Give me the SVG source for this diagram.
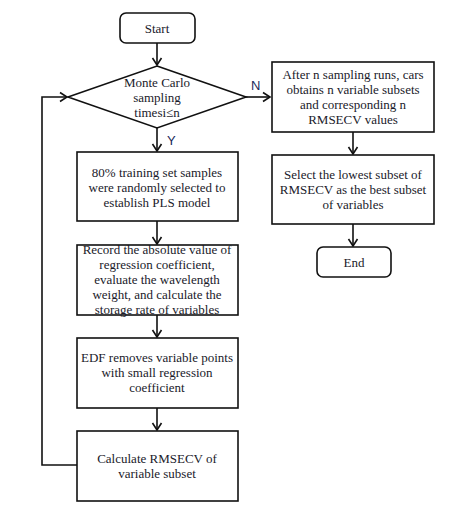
<svg xmlns="http://www.w3.org/2000/svg" width="474" height="520" viewBox="0 0 474 520">
<style>
.b{fill:#fff;stroke:#111;stroke-width:1.6}
.t{font-family:"Liberation Serif","Times New Roman",serif;font-size:13px;fill:#1a1a2a;text-anchor:middle}
.l{font-family:"Liberation Sans",Arial,sans-serif;font-size:13px;fill:#1a2a5a}
.c{fill:none;stroke:#111;stroke-width:1.6}
</style>
<defs>
<marker id="a" markerWidth="12" markerHeight="12" refX="9" refY="6" orient="auto" markerUnits="userSpaceOnUse">
<polyline points="2,1.5 9,6 2,10.5" fill="none" stroke="#111" stroke-width="1.6"/>
</marker>
</defs>
<rect width="474" height="520" fill="#fff"/>
<g id="connectors">
<line class="c" x1="157" y1="43" x2="157" y2="65" marker-end="url(#a)"/>
<line class="c" x1="157" y1="128" x2="157" y2="151" marker-end="url(#a)"/>
<line class="c" x1="246" y1="97" x2="270" y2="97" marker-end="url(#a)"/>
<line class="c" x1="157" y1="221" x2="157" y2="244" marker-end="url(#a)"/>
<line class="c" x1="157" y1="315" x2="157" y2="337" marker-end="url(#a)"/>
<line class="c" x1="157" y1="408" x2="157" y2="430" marker-end="url(#a)"/>
<polyline class="c" points="77,465 42,465 42,97 67,97" marker-end="url(#a)"/>
<line class="c" x1="353" y1="132" x2="353" y2="154" marker-end="url(#a)"/>
<line class="c" x1="353" y1="224" x2="353" y2="246" marker-end="url(#a)"/>
<text class="l" x="251" y="90">N</text>
<text class="l" x="167" y="145">Y</text>
</g>
<g id="start">
<rect class="b" x="120" y="13" width="75" height="30" rx="6"/>
<text class="t" x="157" y="33">Start</text>
</g>
<g id="decision">
<polygon class="b" points="157,66 246,97 157,128 68,97"/>
<text class="t" x="157" y="87">Monte Carlo</text>
<text class="t" x="157" y="102">sampling</text>
<text class="t" x="157" y="117">timesi≤n</text>
</g>
<g id="train">
<rect class="b" x="77" y="152" width="161" height="69"/>
<text class="t" x="157" y="177">80% training set samples</text>
<text class="t" x="157" y="192">were randomly selected to</text>
<text class="t" x="157" y="207">establish PLS model</text>
</g>
<g id="record">
<rect class="b" x="77" y="245" width="161" height="70"/>
<text class="t" x="157" y="254">Record the absolute value of</text>
<text class="t" x="157" y="269">regression coefficient,</text>
<text class="t" x="157" y="284">evaluate the wavelength</text>
<text class="t" x="157" y="299">weight, and calculate the</text>
<text class="t" x="157" y="314">storage rate of variables</text>
</g>
<g id="edf">
<rect class="b" x="77" y="338" width="161" height="70"/>
<text class="t" x="157" y="362">EDF removes variable points</text>
<text class="t" x="157" y="377">with small regression</text>
<text class="t" x="157" y="392">coefficient</text>
</g>
<g id="rmsecv">
<rect class="b" x="77" y="431" width="161" height="70"/>
<text class="t" x="157" y="463">Calculate RMSECV of</text>
<text class="t" x="157" y="478">variable subset</text>
</g>
<g id="after">
<rect class="b" x="272" y="62" width="162" height="70"/>
<text class="t" x="353" y="79">After n sampling runs, cars</text>
<text class="t" x="353" y="94">obtains n variable subsets</text>
<text class="t" x="353" y="109">and corresponding n</text>
<text class="t" x="353" y="124">RMSECV values</text>
</g>
<g id="select">
<rect class="b" x="272" y="155" width="162" height="69"/>
<text class="t" x="353" y="179">Select the lowest subset of</text>
<text class="t" x="353" y="194">RMSECV as the best subset</text>
<text class="t" x="353" y="209">of variables</text>
</g>
<g id="end">
<rect class="b" x="317" y="247" width="74" height="30" rx="6"/>
<text class="t" x="354" y="267">End</text>
</g>
</svg>
